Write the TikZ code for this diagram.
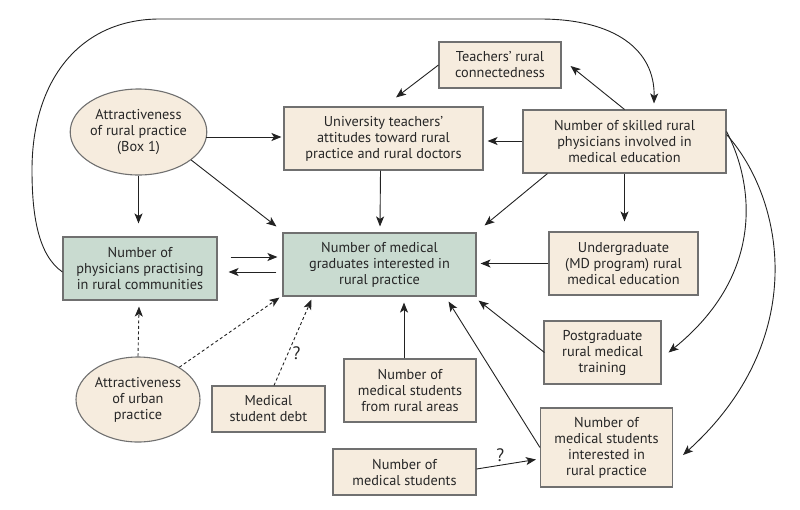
\documentclass[tikz,border=0pt]{standalone}
\usepackage{fontspec}
\setmainfont{PT Sans}
\usetikzlibrary{arrows.meta,calc,shapes.geometric}
\definecolor{beige}{HTML}{F6ECDE}
\definecolor{sage}{HTML}{C9DBD0}
\definecolor{bordergray}{HTML}{707070}
\definecolor{txt}{HTML}{262626}
\definecolor{linec}{HTML}{222222}
\tikzset{
  bx/.style 2 args={draw=bordergray, line width=1.1pt, fill=beige, rectangle,
    minimum width=#1pt, minimum height=#2pt, inner sep=0pt, align=center,
    text=txt, font=\fontsize{14.3}{16}\selectfont},
  gbx/.style 2 args={bx={#1}{#2}, fill=sage},
  ell/.style 2 args={draw=bordergray, line width=1.1pt, fill=beige, ellipse,
    minimum width=#1pt, minimum height=#2pt, inner sep=0pt, align=center,
    text=txt, font=\fontsize{14.3}{16}\selectfont},
  conn/.style={draw=linec, line width=0.9pt, -{Stealth[length=10pt,width=8pt,inset=2.5pt]}},
  dconn/.style={conn, dash pattern=on 3pt off 2.5pt},
  qmark/.style={text=txt, font=\fontsize{18}{18}\selectfont, inner sep=0pt}
}
\begin{document}
\begin{tikzpicture}[x=1pt,y=-1pt]
\useasboundingbox (0,0) rectangle (800,509);
% nodes
\node[bx={122}{46}] (teach) at (500,65) {Teachers' rural\\connectedness};
\node[bx={199}{63}] (univ) at (383.5,138.5) {University teachers'\\attitudes toward rural\\practice and rural doctors};
\node[bx={203}{63}] (skill) at (624.5,141.5) {Number of skilled rural\\physicians involved in\\medical education};
\node[ell={123}{86}] (arural) at (138.5,132) {Attractiveness\\of rural practice\\(Box 1)};
\node[gbx={154}{63}] (phys) at (140,268.5) {Number of\\physicians practising\\in rural communities};
\node[gbx={193}{63}] (grad) at (379.5,264.5) {Number of medical\\graduates interested in\\rural practice};
\node[bx={149}{63}] (under) at (623.5,263.5) {Undergraduate\\(MD program) rural\\medical education};
\node[bx={117}{63}] (post) at (602.5,352.5) {Postgraduate\\rural medical\\training};
\node[bx={132}{63}] (rstud) at (410,390.5) {Number of\\medical students\\from rural areas};
\node[bx={132}{79}] (istud) at (606.5,447.5) {Number of\\medical students\\interested in\\rural practice};
\node[bx={143}{46}] (nstud) at (404.5,472) {Number of\\medical students};
\node[bx={113}{46}] (debt) at (268.5,409) {Medical\\student debt};
\node[ell={124}{85}] (urban) at (138,399.5) {Attractiveness\\of urban\\practice};
% connectors
\draw[conn] ($(phys.west)+(0,3.5)$) .. controls (38,255) and (32,215) .. (32,170)
  .. controls (32,80) and (80,19) .. (160,19) -- (540,19)
  .. controls (615,19) and (655,50) .. ($(skill.north)+(29.5,-6)$);
\draw[conn] (teach.west) -- ($(univ.north)+(12.5,-9)$);
\draw[conn] (skill.north) -- ($(teach.east)+(9,1)$);
\draw[conn] ($(skill.west)+(0,-0.5)$) -- ($(univ.east)+(4,2.5)$);
\draw[conn] ($(skill.south west)+(25,0)$) -- ($(grad.north east)+(8,-7)$);
\draw[conn] (skill.south) -- ($(under.north)+(1,-10)$);
\draw[conn] ($(skill.east)+(0,-10)$) .. controls (752,180) and (768,272) .. ($(post.east)+(7,0)$);
\draw[conn] ($(skill.east)+(0,-7)$) .. controls (785,200) and (810,340) .. ($(istud.east)+(10,7.5)$);
\draw[conn] ($(arural.east)+(-1,5)$) -- ($(univ.west)+(-2,-1.5)$);
\draw[conn] (arural.-28) -- ($(grad.north west)+(-6,-6)$);
\draw[conn] (arural.south) -- ($(phys.north)+(-1.5,-13)$);
\draw[conn] ($(univ.south)+(-3,0)$) -- ($(grad.north)+(0.5,-6)$);
\draw[conn] ($(phys.east)+(13,-11.5)$) -- ($(grad.west)+(-5,-7.5)$);
\draw[conn] ($(grad.west)+(-6,7.5)$) -- ($(phys.east)+(11,3.5)$);
\draw[conn] (under.west) -- ($(grad.east)+(4,-1)$);
\draw[conn] ($(post.west)+(1,0)$) -- ($(grad.south east)+(2,4)$);
\draw[conn] ($(rstud.north)+(-6,0)$) -- ($(grad.south)+(24.5,6)$);
\draw[conn] (istud.west) -- ($(grad.south east)+(-28,5)$);
\draw[conn] ($(nstud.east)+(0,-3)$) -- node[qmark, above=3pt, pos=0.4] (q1) {?} ($(istud.west)+(-4,12)$);
\draw[dconn] (urban.north) -- ($(phys.south)+(-1,6)$);
\draw[dconn] (urban.38) -- ($(grad.south west)+(-3,1)$);
\draw[dconn] ($(debt.north)+(5.5,0)$) -- node[qmark, right=4pt, pos=0.38] (q2) {?} ($(grad.south west)+(29,3)$);
\end{tikzpicture}
\end{document}
